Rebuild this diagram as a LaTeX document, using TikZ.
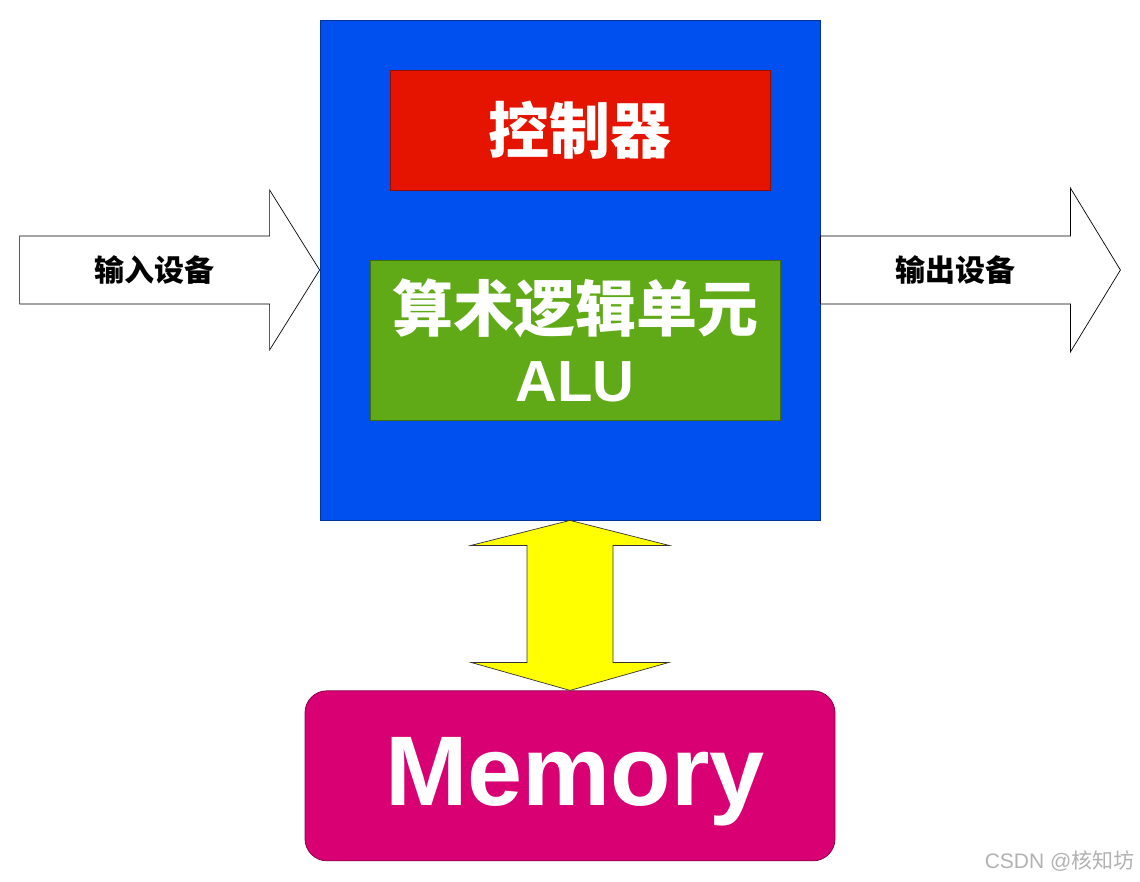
\documentclass[tikz,border=0pt]{standalone}
\usepackage{fontspec}
\setmainfont{Liberation Sans}
\newfontfamily\cjk{Noto Sans CJK SC}
\usetikzlibrary{positioning,calc}
\definecolor{cpublue}{RGB}{0,80,239}
\definecolor{ctlred}{RGB}{229,20,0}
\definecolor{alugreen}{RGB}{96,169,23}
\definecolor{memred}{RGB}{216,0,115}
\definecolor{busyellow}{RGB}{255,255,0}

\begin{document}
\begin{tikzpicture}[x=1pt,y=-1pt,
  blk/.style={draw=#1!65!black,fill=#1,line width=0.8pt,text=white,align=center,inner sep=0pt},
  io/.style={draw=black,fill=white,line width=0.7pt},
  iolbl/.style={font=\cjk\bfseries\fontsize{30}{32}\selectfont},
  bus/.style={draw=black!80,fill=busyellow,line width=0.7pt}]
\useasboundingbox (0,0) rectangle (1140,881);
\node[blk=cpublue,minimum width=500pt,minimum height=500pt] (cpu) at (570,270) {};
\node[blk=ctlred,minimum width=380pt,minimum height=120pt,below=50pt of cpu.north,xshift=10pt,
  font=\cjk\bfseries\fontsize{61}{62}\selectfont] (ctl) {控制器};
\node[blk=alugreen,minimum width=410pt,minimum height=160pt,below=70pt of ctl,xshift=-5pt,
  font=\cjk\bfseries\fontsize{61}{70}\selectfont] (alu) {算术逻辑单元\\\normalfont\bfseries\fontsize{58}{70}\selectfont ALU};
\node[blk=memred,minimum width=530pt,minimum height=170pt,rounded corners=22pt,below=170pt of cpu,
  font=\bfseries\fontsize{99}{100}\selectfont] (mem) {\hspace*{10pt}\raisebox{0pt}[60pt][0pt]{Memory}};
% input / output arrows
\draw[io] ($(cpu.west)+(-300,-34)$) -- ($(cpu.west)+(-50,-34)$) -- ($(cpu.west)+(-50,-80)$)
  -- (cpu.west) -- ($(cpu.west)+(-50,80)$) -- ($(cpu.west)+(-50,34)$) -- ($(cpu.west)+(-300,34)$) -- cycle;
\node[iolbl] (in) at ($(cpu.west)+(-165,0)$) {输入设备};
\coordinate (outtip) at ($(cpu.east)+(300,0)$);
\draw[io] ($(cpu.east)+(0,-34)$) -- ($(outtip)+(-50,-34)$) -- ($(outtip)+(-50,-82)$)
  -- (outtip) -- ($(outtip)+(-50,82)$) -- ($(outtip)+(-50,34)$) -- ($(cpu.east)+(0,34)$) -- cycle;
\node[iolbl] (out) at ($(cpu.east)+(135,0)$) {输出设备};
% bus between cpu and memory
\draw[bus] (cpu.south) -- ($(cpu.south)+(-99,25)$) -- ($(cpu.south)+(-43,25)$) -- ($(mem.north)+(-43,-28)$)
  -- ($(mem.north)+(-99,-28)$) -- (mem.north) -- ($(mem.north)+(99,-28)$) -- ($(mem.north)+(43,-28)$)
  -- ($(cpu.south)+(43,25)$) -- ($(cpu.south)+(99,25)$) -- cycle;
\node[text=black!30,font=\fontsize{21}{22}\selectfont,anchor=east] (wm) at (1138,861) {CSDN @{\cjk 核知坊}};
\end{tikzpicture}
\end{document}
